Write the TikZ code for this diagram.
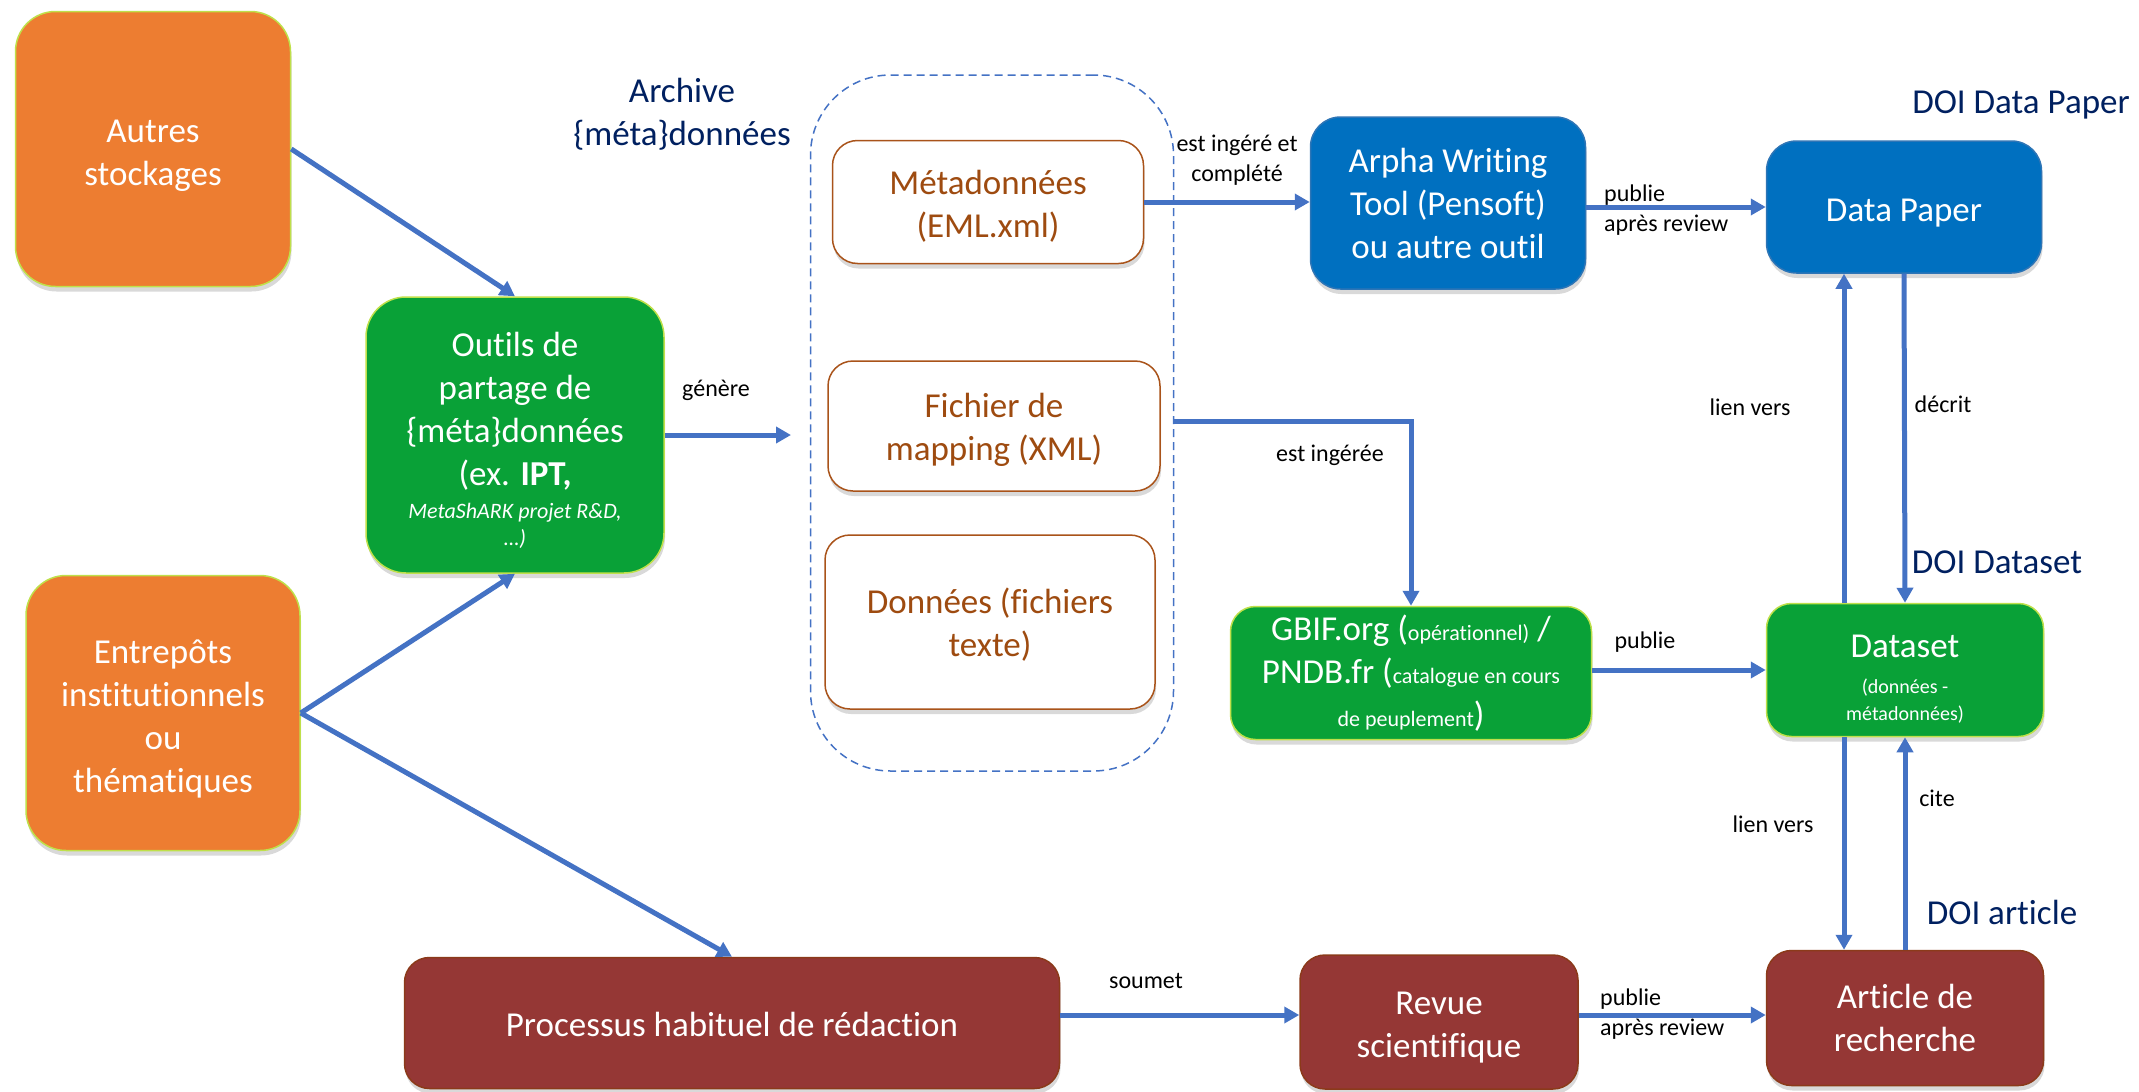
\documentclass[tikz,border=0pt]{standalone}
\usepackage{fontspec}
\setmainfont[Ligatures=NoCommon]{Carlito}
\usetikzlibrary{shadows,arrows.meta,calc}
\definecolor{orangeC}{HTML}{ED7D31}
\definecolor{limeC}{HTML}{BFE04A}
\definecolor{greenC}{HTML}{09A137}
\definecolor{blueC}{HTML}{0070C0}
\definecolor{blueB}{HTML}{2E75B6}
\definecolor{redC}{HTML}{953735}
\definecolor{redB}{HTML}{8B3A1A}
\definecolor{brownT}{HTML}{9E4B10}
\definecolor{brownB}{HTML}{A9531A}
\definecolor{navyC}{HTML}{002060}
\definecolor{edgeC}{HTML}{4472C4}
\newcommand\myst[1]{\rule{0pt}{#1pt}}
\tikzset{
  box/.style={rounded corners=40pt, draw, line width=1.5pt, align=center, inner sep=0pt,
    text=white, font=\fontsize{35}{43}\selectfont,
    drop shadow={shadow xshift=1pt, shadow yshift=-5pt, opacity=0.3}},
  orangebox/.style={box, fill=orangeC, draw=limeC},
  greenbox/.style={box, fill=greenC, draw=limeC},
  bluebox/.style={box, fill=blueC, draw=blueB, rounded corners=30pt},
  redbox/.style={box, fill=redC, draw=redB, rounded corners=25pt},
  filebox/.style={box, fill=white, draw=brownB, text=brownT, rounded corners=25pt},
  edge/.style={draw=edgeC, line width=5pt, -{Triangle[length=15pt,width=16pt]}},
  lab/.style={font=\fontsize{24}{30}\selectfont, text=black, align=center, inner sep=0pt},
  doi/.style={font=\fontsize{35}{43}\selectfont, text=navyC, align=center, inner sep=0pt}
}
\begin{document}
\begin{tikzpicture}[x=1pt,y=-1pt]
\useasboundingbox (0,0) rectangle (2139,1092);
% container
\node[draw=edgeC, line width=1.5pt, dashed, dash pattern=on 8pt off 5pt, rounded corners=80pt,
  minimum width=363pt, minimum height=696pt, inner sep=0pt] (arch) at (992,423) {};
\node[doi] (archlab) at (682,114) {Archive\\\{méta\}données};

% nodes
\node[orangebox, minimum width=275pt, minimum height=275pt] (autres) at (153,149) {\myst{36}Autres\\stockages};
\node[orangebox, minimum width=274pt, minimum height=275pt] (entre) at (163,713)
  {\myst{36}Entrepôts\\institutionnels\\ou\\thématiques};
\node[greenbox, minimum width=298pt, minimum height=276pt] (outils) at (515,435)
  {\myst{36}Outils de\\partage de\\\{méta\}données\\(ex. \textbf{IPT,}\\[-10pt]
   {\fontsize{22}{27}\selectfont\itshape MetaShARK projet R\&D,}\\[-16pt]
   {\fontsize{22}{27}\selectfont\itshape …)}};
\node[filebox, minimum width=311pt, minimum height=123pt] (meta) at (988,202) {\myst{33}Métadonnées\\(EML.xml)};
\node[filebox, minimum width=332pt, minimum height=130pt] (fich) at (994,426) {\myst{33}Fichier de\\mapping (XML)};
\node[filebox, minimum width=330pt, minimum height=174pt] (donn) at (990,622) {\myst{30}Données (fichiers\\texte)};
\node[bluebox, minimum width=275pt, minimum height=172pt] (arpha) at (1448,203)
  {Arpha Writing\\Tool (Pensoft)\\ou autre outil};
\node[bluebox, minimum width=275pt, minimum height=132pt] (dp) at (1904,207) {\myst{35}Data Paper};
\node[greenbox, rounded corners=25pt, minimum width=361pt, minimum height=133pt] (gbif) at (1411,673)
  {GBIF.org ({\fontsize{22}{27}\selectfont opérationnel)} /\\
   PNDB.fr ({\fontsize{22}{27}\selectfont catalogue en cours}\\
   {\fontsize{22}{27}\selectfont de peuplement})};
\node[greenbox, rounded corners=25pt, minimum width=277pt, minimum height=133pt] (ds) at (1905,670)
  {\myst{40}Dataset\\[-7pt]{\fontsize{20}{26}\selectfont (données -}\\[-16pt]{\fontsize{20}{26}\selectfont métadonnées)}};
\node[redbox, minimum width=655pt, minimum height=131pt] (proc) at (732,1023) {\myst{27}Processus habituel de rédaction};
\node[redbox, minimum width=278pt, minimum height=134pt] (revue) at (1439,1022) {\myst{33}Revue\\scientifique};
\node[redbox, minimum width=277pt, minimum height=135pt] (art) at (1905,1018) {Article de\\recherche};

% DOI labels
\node[doi] (doidp) at (2021,105) {DOI Data Paper};
\node[doi] (doids) at (1997,562) {DOI Dataset};
\node[doi] (doiart) at (2002,912) {DOI article};

% connectors
\coordinate (gen) at (791,435);
\draw[edge] (autres.east) -- (outils.north);
\draw[edge] (entre.east) -- (outils.south);
\draw[edge] (entre.east) -- (proc.north);
\draw[edge] (outils.east) -- (gen);
\draw[edge] (meta.east) -- (meta.east -| arpha.west);
\draw[edge] ($(arch.east |- fich.east)+(0,-5)$) -| (gbif.north);
\draw[edge] (arpha.east |- dp.west) -- (dp.west);
\draw[edge] ($(ds.north)+(-61,0)$) -- ($(dp.south)+(-60,0)$);
\draw[edge] (dp.south) -- (ds.north);
\draw[edge] (gbif.east |- ds.west) -- (ds.west);
\draw[edge] ($(ds.south)+(-61,0)$) -- ($(art.north)+(-61,0)$);
\draw[edge] (art.north) -- (ds.south);
\draw[edge] ($(proc.east)+(0,-8)$) -- ($(revue.west)+(0,-7)$);
\draw[edge] ($(revue.east)+(0,-7)$) -- ($(art.west)+(0,-3)$);

% edge labels
\node[lab] (lgen) at (716,390) {génère};
\node[lab] (ling) at (1237,160) {est ingéré et\\complété};
\node[lab] (linge) at (1330,455) {est ingérée};
\node[lab, anchor=west, align=left] (lpub1) at (1604,210) {publie\\après review};
\node[lab] (llien1) at (1750,407) {lien vers};
\node[lab] (ldecrit) at (1943,404) {décrit};
\node[lab] (lpub2) at (1645,642) {publie};
\node[lab] (llien2) at (1773,824) {lien vers};
\node[lab] (lcite) at (1937,798) {cite};
\node[lab] (lsoum) at (1146,981) {soumet};
\node[lab, anchor=west, align=left] (lpub3) at (1600,1014) {publie\\après review};
\end{tikzpicture}
\end{document}
